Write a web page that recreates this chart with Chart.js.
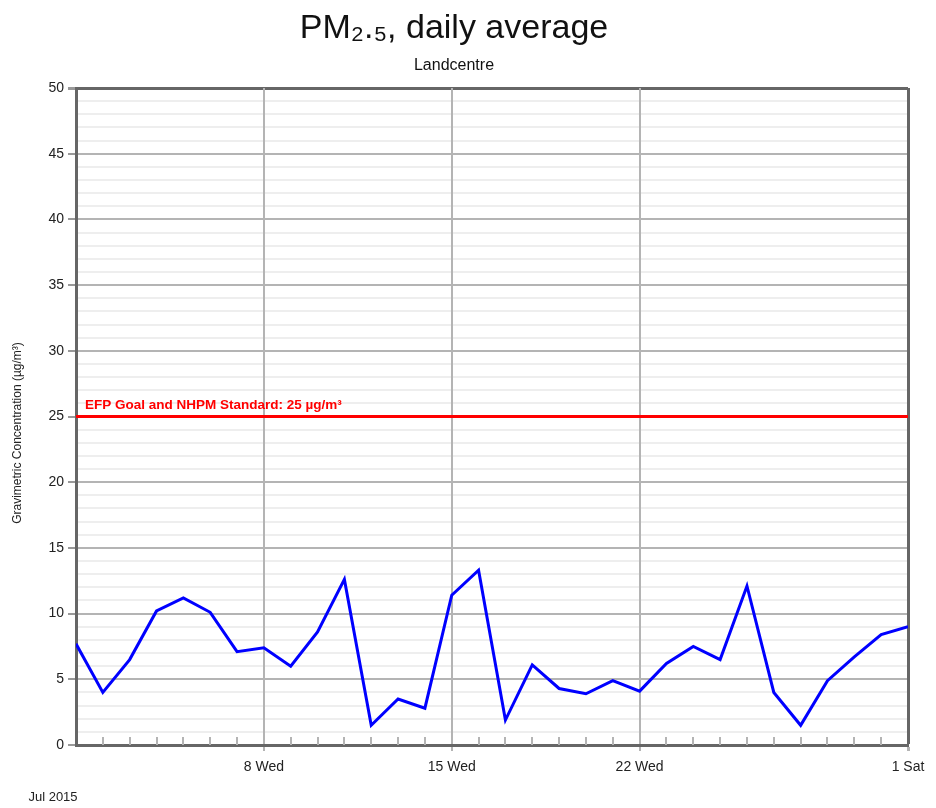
<!DOCTYPE html>
<html>
<head>
<meta charset="utf-8">
<script src="https://cdn.jsdelivr.net/npm/chart.js@4.4.1/dist/chart.umd.min.js"></script>
<style>
  html, body { margin: 0; padding: 0; background: #ffffff; }
  #wrap { width: 936px; height: 808px; }
</style>
</head>
<body>
<div id="wrap"><canvas id="pmChart" width="936" height="808"></canvas></div>
<script>
// Jour depuis le 1er juillet 2015 (0 = Jul 1, 31 = Aug 1)
const dayIndex = [0, 1, 2, 3, 4, 5, 6, 7, 8, 9, 10, 11, 12, 13, 14, 15,
                  16, 17, 18, 19, 20, 21, 22, 23, 24, 25, 26, 27, 28, 29, 30, 31];
// PM2.5 moyenne journalière (µg/m³)
const pm25 = [7.7, 4.0, 6.5, 10.2, 11.2, 10.1, 7.1, 7.4, 6.0, 8.6, 12.6, 1.5, 3.5, 2.8, 11.4, 13.3,
              1.9, 6.1, 4.3, 3.9, 4.9, 4.1, 6.2, 7.5, 6.5, 12.1, 4.0, 1.5, 4.9, 6.7, 8.4, 9.0];
// Seuil EFP / NHPM
const standardValue = 25;
const standardDays = [0, 31];
const standardLabel = 'EFP Goal and NHPM Standard: 25 µg/m³';
// Graduations de l'axe X
const majorDays = [7, 14, 21, 31];
const majorLabels = ['8 Wed', '15 Wed', '22 Wed', '1 Sat'];
const periodLabel = 'Jul 2015';
const yAxisLabel = 'Gravimetric Concentration (µg/m³)';

const FONT = '"Liberation Sans Narrow", "Liberation Sans", Arial, sans-serif';
const majorGrid = '#b4b4b4';
const minorGrid = '#eeeeee';
const frameColor = '#666666';

// textes et petites graduations dessinés à la main
const extrasPlugin = {
    id: 'extras',
    beforeDatasetsDraw(chart) {
        const { ctx, chartArea, scales } = chart;
        ctx.save();
        ctx.strokeStyle = '#b4b4b4';
        ctx.lineWidth = 2;
        dayIndex.forEach(d => {
            if (majorDays.includes(d) || d === 0) return;
            const x = Math.round(scales.x.getPixelForValue(d));
            ctx.beginPath();
            ctx.moveTo(x, chartArea.bottom);
            ctx.lineTo(x, chartArea.bottom - 8);
            ctx.stroke();
        });
        ctx.restore();
    },
    afterDraw(chart) {
        const { ctx, chartArea, scales } = chart;
        ctx.save();
        // libellé du seuil
        ctx.fillStyle = '#ff0000';
        ctx.font = `bold 13.5px ${FONT}`;
        ctx.textAlign = 'left';
        ctx.textBaseline = 'bottom';
        ctx.fillText(standardLabel, chartArea.left + 9, scales.y.getPixelForValue(standardValue) - 4);
        // période
        ctx.fillStyle = '#222222';
        ctx.font = `13px ${FONT}`;
        ctx.textAlign = 'center';
        ctx.textBaseline = 'middle';
        ctx.fillText(periodLabel, 53, 797);
        // titre de l'axe Y
        ctx.translate(18, 433);
        ctx.rotate(-Math.PI / 2);
        ctx.font = `12px ${FONT}`;
        ctx.fillText(yAxisLabel, 0, 0);
        ctx.restore();
    }
};

new Chart(document.getElementById('pmChart').getContext('2d'), {
    type: 'line',
    data: {
        datasets: [
            {
                label: 'PM2.5',
                data: dayIndex.map((d, i) => ({ x: d, y: pm25[i] })),
                borderColor: '#0000ff',
                borderWidth: 3,
                pointRadius: 0,
                tension: 0,
                order: 1
            },
            {
                label: 'Standard',
                data: standardDays.map(d => ({ x: d, y: standardValue })),
                borderColor: '#ff0000',
                borderWidth: 3,
                pointRadius: 0,
                order: 2
            }
        ]
    },
    options: {
        responsive: false,
        animation: false,
        layout: { padding: { top: 2, left: 0, right: 28, bottom: 0 } },
        scales: {
            x: {
                type: 'linear',
                min: 0,
                max: 31,
                afterBuildTicks: (scale) => { scale.ticks = dayIndex.map(d => ({ value: d })); },
                afterFit: (scale) => { scale.height = 63; },
                border: { display: true, color: frameColor, width: 3 },
                grid: {
                    color: (c) => c.tick.value === 31 ? frameColor : (majorDays.includes(c.tick.value) ? majorGrid : 'rgba(0,0,0,0)'),
                    lineWidth: (c) => c.tick.value === 31 ? 3 : 2,
                    tickColor: (c) => majorDays.includes(c.tick.value) ? majorGrid : 'rgba(0,0,0,0)',
                    tickLength: 6
                },
                ticks: {
                    autoSkip: false,
                    maxRotation: 0,
                    padding: 8,
                    color: '#222222',
                    font: { family: FONT, size: 14 },
                    callback: (v) => {
                        const i = majorDays.indexOf(v);
                        return i >= 0 ? majorLabels[i] : '';
                    }
                }
            },
            y: {
                min: 0,
                max: 50,
                afterFit: (scale) => { scale.width = 76; },
                border: { display: true, color: frameColor, width: 3 },
                grid: {
                    z: -2,
                    color: (c) => c.tick.value === 50 ? frameColor : (c.tick.value % 5 === 0 ? majorGrid : minorGrid),
                    lineWidth: (c) => c.tick.value === 50 ? 3 : 2,
                    tickColor: (c) => c.tick.value % 5 === 0 ? '#999999' : 'rgba(0,0,0,0)',
                    tickLength: 8
                },
                ticks: {
                    stepSize: 1,
                    autoSkip: false,
                    padding: 4,
                    color: '#222222',
                    font: { family: FONT, size: 14 },
                    callback: (v) => v % 5 === 0 ? v : ''
                }
            }
        },
        plugins: {
            legend: { display: false },
            tooltip: { enabled: false },
            title: {
                display: true,
                text: 'PM₂.₅, daily average',
                color: '#111111',
                font: { family: FONT, size: 34, weight: 'normal' },
                padding: { top: 6, bottom: 2 }
            },
            subtitle: {
                display: true,
                text: 'Landcentre',
                color: '#111111',
                font: { family: FONT, size: 16, weight: 'normal' },
                padding: { top: 5, bottom: 13 }
            }
        }
    },
    plugins: [extrasPlugin]
});
</script>
</body>
</html>
